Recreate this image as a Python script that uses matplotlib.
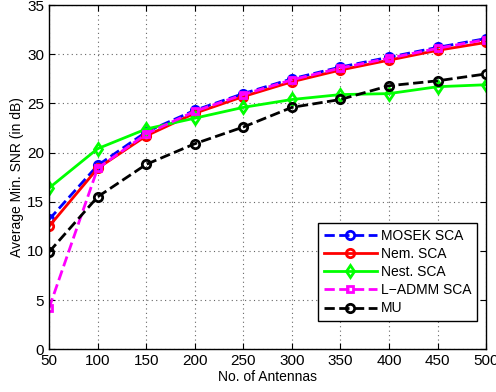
import numpy as np
import matplotlib.pyplot as plt

plt.rcParams['font.family'] = ['Liberation Sans', 'DejaVu Sans']

antennas = [50, 100, 150, 200, 250, 300, 350, 400, 450, 500]
mosek_sca = [13.2, 18.7, 22.1, 24.3, 26.0, 27.5, 28.7, 29.7, 30.7, 31.6]
nem_sca = [12.5, 18.4, 21.7, 24.0, 25.7, 27.2, 28.4, 29.4, 30.4, 31.2]
nest_sca = [16.4, 20.4, 22.4, 23.5, 24.6, 25.4, 25.9, 26.0, 26.7, 26.9]
ladmm_sca = [4.2, 18.4, 21.9, 24.2, 25.9, 27.4, 28.6, 29.6, 30.6, 31.5]
mu = [9.9, 15.5, 18.8, 20.9, 22.6, 24.6, 25.4, 26.8, 27.3, 28.0]

fig = plt.figure(figsize=(4.96, 3.92), dpi=100)
ax = fig.add_axes([0.099, 0.109, 0.881, 0.878])

ax.plot(antennas, mosek_sca, '--o', color='blue', lw=2, ms=6, mfc='none', mew=2, label='MOSEK SCA')
ax.plot(antennas, nem_sca, '-o', color='red', lw=2, ms=6, mfc='none', mew=2, label='Nem. SCA')
ax.plot(antennas, nest_sca, '-d', color='#00ff00', lw=2, ms=6, mfc='none', mew=2, label='Nest. SCA')
ax.plot(antennas, ladmm_sca, '--s', color='magenta', lw=2, ms=5, mfc='none', mew=2, label='L\u2212ADMM SCA')
ax.plot(antennas, mu, '--o', color='black', lw=2, ms=6, mfc='none', mew=2, label='MU')

ax.set_xlim(50, 500)
ax.set_ylim(0, 35)
ax.set_xticks(np.arange(50, 501, 50))
ax.set_yticks(np.arange(0, 36, 5))
ax.grid(True, ls=(0, (1, 3)), color='#666666', lw=0.8)
ax.tick_params(direction='in', top=True, right=True, labelsize=11, length=4)
for s in ax.spines.values():
    s.set_linewidth(1)

ax.set_xlabel('No. of Antennas', fontsize=10, labelpad=1)
ax.set_ylabel('Average Min. SNR (in dB)', fontsize=10, labelpad=2)

leg = ax.legend(loc='lower right', bbox_to_anchor=(0.979, 0.082), borderaxespad=0,
                fontsize=10, fancybox=False, framealpha=1, edgecolor='black',
                handlelength=3.8, borderpad=0.4, labelspacing=0.3, handletextpad=0.3)
leg.get_frame().set_linewidth(1)

fig.savefig('out.png', dpi=100)
